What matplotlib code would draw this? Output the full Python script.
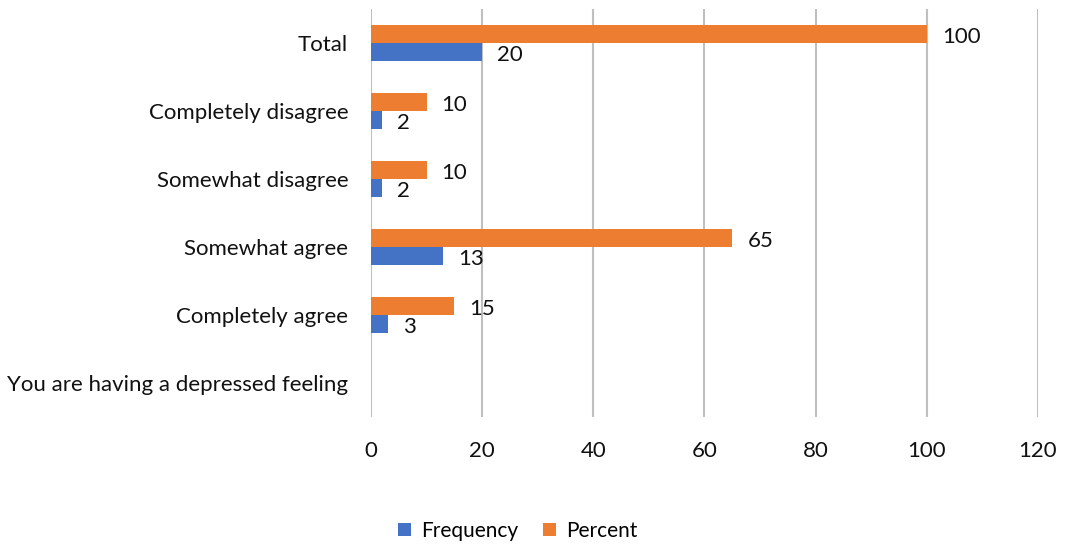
import numpy as np
import matplotlib.pyplot as plt

plt.rcParams["font.family"] = ["Lato", "DejaVu Sans"]

categories = [
    "You are having a depressed feeling",
    "Completely agree",
    "Somewhat agree",
    "Somewhat disagree",
    "Completely disagree",
    "Total",
]
frequency = [np.nan, 3, 13, 2, 2, 20]
percent = [np.nan, 15, 65, 10, 10, 100]

freq_color = "#4472C4"
pct_color = "#ED7D31"
grid_color = "#BFBFBF"
text_color = "#111111"
fs = 16

fig = plt.figure(figsize=(10.65, 5.46), dpi=100)
ax = fig.add_axes([0.3484, 0.2363, 0.9746 - 0.3484, 0.9835 - 0.2363])

y = np.arange(len(categories))
h = 0.265
freq_bars = ax.barh(y - h / 2, frequency, height=h, color=freq_color, label="Frequency", zorder=3)
pct_bars = ax.barh(y + h / 2, percent, height=h, color=pct_color, label="Percent", zorder=3)

# value labels just past the bar ends
for bars, values in ((freq_bars, frequency), (pct_bars, percent)):
    for bar, v in zip(bars, values):
        if np.isnan(v):
            continue
        ax.annotate(
            f"{v:g}",
            xy=(v, bar.get_y() + bar.get_height() / 2),
            xytext=(15, -1),
            textcoords="offset pixels",
            va="center_baseline",
            ha="left",
            fontsize=fs,
            color=text_color,
            zorder=4,
        )

ax.set_xlim(0, 120)
ax.set_ylim(-0.5, len(categories) - 0.5)
ax.set_xticks(np.arange(0, 121, 20))
ax.set_yticks(y)
ax.set_yticklabels(categories)
ax.tick_params(axis="both", length=0, labelsize=fs, colors=text_color)
ax.tick_params(axis="y", pad=16.5)
ax.tick_params(axis="x", pad=17)

ax.grid(axis="x", color=grid_color, linewidth=1.5, zorder=0)
for spine in ax.spines.values():
    spine.set_visible(False)

fig.legend(
    handles=[freq_bars, pct_bars],
    labels=["Frequency", "Percent"],
    loc="center",
    bbox_to_anchor=(518 / 1065, 1 - 531 / 546),
    ncol=2,
    frameon=False,
    fontsize=15,
    handlelength=0.6,
    handleheight=0.6,
    handletextpad=0.5,
    columnspacing=1.2,
)

fig.savefig("out.png", dpi=100)
